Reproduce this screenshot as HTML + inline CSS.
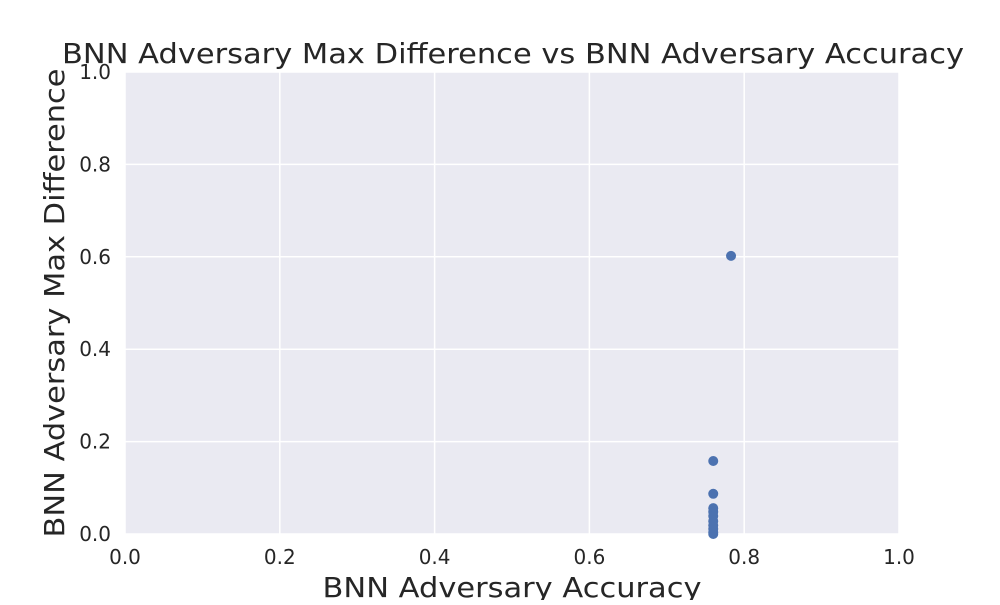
<!DOCTYPE html>
<html><head><meta charset="utf-8"><style>
body{margin:0;background:#fff;}
svg text{font-family:"DejaVu Sans","Liberation Sans",sans-serif;fill:#262626;}
</style></head><body>
<svg width="1000" height="600">
<rect x="125" y="72" width="774" height="462" fill="#eaeaf2"/>
<g id="grid"></g>
<g id="ticks"></g>
<g id="pts"></g>
<text x="513" y="63" font-size="28" text-anchor="middle" textLength="902" lengthAdjust="spacingAndGlyphs">BNN Adversary Max Difference vs BNN Adversary Accuracy</text>
<text x="512" y="597" font-size="28" text-anchor="middle" textLength="379" lengthAdjust="spacingAndGlyphs">BNN Adversary Accuracy</text>
<text transform="translate(64,303) rotate(-90)" font-size="28" text-anchor="middle" textLength="469" lengthAdjust="spacingAndGlyphs">BNN Adversary Max Difference</text>
</svg>
<script>
const xs=[0.783,0.76,0.76,0.76,0.76,0.76,0.76,0.76,0.76,0.76,0.76];
const ys=[0.602,0.158,0.087,0.056,0.048,0.039,0.028,0.019,0.011,0.004,0.0];
const ticks=[0,0.2,0.4,0.6,0.8,1.0];
const tickLabels=["0.0","0.2","0.4","0.6","0.8","1.0"];
const X=v=>125+v*774, Y=v=>534-v*462;
const NS="http://www.w3.org/2000/svg";
const g=document.getElementById('grid'),t=document.getElementById('ticks'),p=document.getElementById('pts');
function mk(tag,a,par){const e=document.createElementNS(NS,tag);for(const k in a)e.setAttribute(k,a[k]);par.appendChild(e);return e;}
ticks.forEach((v,i)=>{
 let l=mk('line',{x1:X(v),x2:X(v),y1:72,y2:534,stroke:'#fff','stroke-width':1.5},g);
 
 
 l=mk('line',{x1:125,x2:899,y1:Y(v),y2:Y(v),stroke:'#fff','stroke-width':1.5},g);
 
 
 let tx=mk('text',{x:X(v),y:564,'font-size':20,'text-anchor':'middle'},t);tx.textContent=tickLabels[i];
 
 
 tx=mk('text',{x:111,y:Y(v)+7,'font-size':20,'text-anchor':'end'},t);tx.textContent=tickLabels[i];
 
 
});
xs.forEach((v,i)=>{
 const c=mk('circle',{cx:X(v),cy:Y(ys[i]),r:5,fill:'#4c72b0'},p);
 
 
});
</script>
</body></html>
